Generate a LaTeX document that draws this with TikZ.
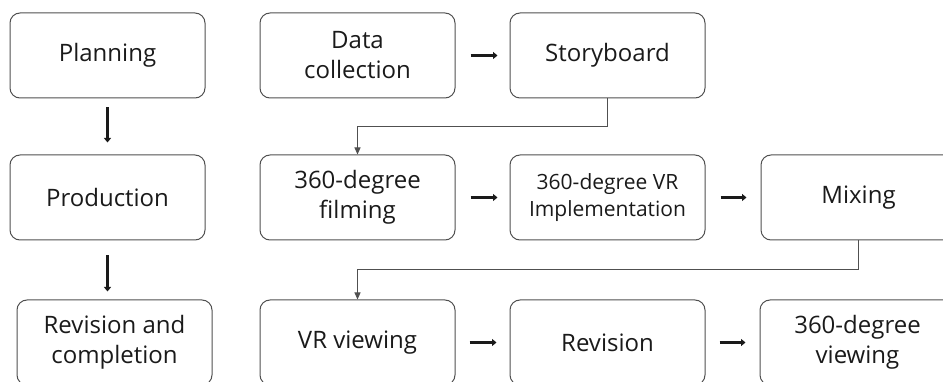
\documentclass[tikz,border=0pt]{standalone}
\usepackage{fontspec}
\setmainfont{Open Sans}
\usetikzlibrary{arrows.meta}
\definecolor{boxgray}{HTML}{505050}
\definecolor{txt}{HTML}{1A1A1A}
\begin{document}
\begin{tikzpicture}[x=1pt,y=-1pt,
  box/.style={draw=boxgray, line width=1pt, rounded corners=10pt,
    minimum width=195pt, minimum height=85pt, align=center, inner sep=0pt,
    text=txt, font=\fontsize{24}{30}\selectfont},
  small/.style={font=\fontsize{21}{27}\selectfont},
  fat/.style={line width=2.8pt, txt, -{Triangle[length=4.5pt,width=7pt]}},
  conn/.style={line width=0.9pt, boxgray, -{Triangle[length=7pt,width=6pt]}}]
\useasboundingbox (0,0) rectangle (943,382);
\clip (0,0) rectangle (943,382);
% left column
\node[box] (plan) at (107.5,55.5) {Planning};
\node[box] (prod) at (107.5,197.5) {Production};
\node[box] (revc) at (114.5,342.5) {Revision and\\completion};
% row 1
\node[box] (data) at (357.5,55.5) {Data\\collection};
\node[box] (story) at (607.5,55.5) {Storyboard};
% row 2
\node[box] (film) at (357.5,197.5) {360-degree\\filming};
\node[box,small] (impl) at (607.5,197.5) {360-degree VR\\Implementation};
\node[box] (mix) at (858.5,197.5) {Mixing};
% row 3
\node[box] (vrv) at (357.5,342.5) {VR viewing};
\node[box] (rev) at (607.5,342.5) {Revision};
\node[box] (view) at (857.5,342.5) {360-degree\\viewing};
% thick arrows
\draw[fat] ([yshift=-9pt]plan.south) -- ([yshift=12pt]prod.north);
\draw[fat] ([yshift=-15pt]prod.south) -- ([yshift=8pt]revc.north-|prod.south);
\draw[fat] ([xshift=15pt]data.east) -- ([xshift=-12pt]story.west);
\draw[fat] ([xshift=15pt]film.east) -- ([xshift=-12pt]impl.west);
\draw[fat] ([xshift=15pt]impl.east) -- ([xshift=-14pt]mix.west);
\draw[fat] ([xshift=14pt]vrv.east) -- ([xshift=-13pt]rev.west);
\draw[fat] ([xshift=14pt]rev.east) -- ([xshift=-14pt]view.west);
% connectors
\draw[conn] (story.south) -- ++(0,28) -| (film.north);
\draw[conn] (mix.south) -- ++(0,29) -| (vrv.north);
\end{tikzpicture}
\end{document}
